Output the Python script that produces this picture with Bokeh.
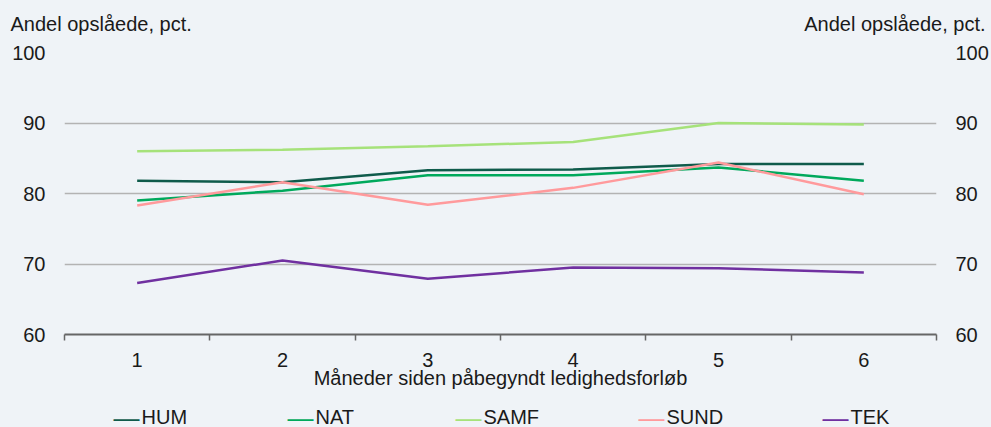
from bokeh.plotting import figure
from bokeh.models import (LinearAxis, FixedTicker, Label, Range1d)
from bokeh.embed import file_html
from bokeh.resources import INLINE

months = [1, 2, 3, 4, 5, 6]
month_labels = ["1", "2", "3", "4", "5", "6"]
series_names = ["HUM", "NAT", "SAMF", "SUND", "TEK"]
hum = [81.8, 81.6, 83.3, 83.4, 84.2, 84.2]
nat = [79.0, 80.4, 82.6, 82.6, 83.7, 81.8]
samf = [86.0, 86.2, 86.7, 87.3, 90.0, 89.8]
sund = [78.3, 81.6, 78.4, 80.8, 84.4, 79.9]
tek = [67.3, 70.5, 67.9, 69.5, 69.4, 68.8]
y_ticks = [60, 70, 80, 90, 100]
y_title = "Andel opslåede, pct."
x_title = "Måneder siden påbegyndt ledighedsforløb"

colors = ["#0f5b4b", "#00a95c", "#a6e27a", "#ff9a9c", "#7030a0"]
BG = "#eff3f7"
FONT = "Liberation Sans"
FS = "20px"
TXT = "#1a1a1a"

p = figure(frame_width=872, frame_height=282, output_backend="svg",
           toolbar_location=None, x_range=Range1d(0.5, 6.5), y_range=Range1d(60, 100),
           min_border_top=52, min_border_left=64, min_border_right=55, min_border_bottom=93,
           background_fill_color=BG, border_fill_color=BG, outline_line_color=None)

p.xgrid.grid_line_color = None
p.ygrid.ticker = FixedTicker(ticks=[70, 80, 90, 100])
p.ygrid.grid_line_color = "#b3b3b3"
p.ygrid.grid_line_width = 1.5

# x axis
xa = p.xaxis[0]
xa.ticker = FixedTicker(ticks=months, minor_ticks=[m - 0.5 for m in months] + [months[-1] + 0.5])
xa.major_label_overrides = {m: l for m, l in zip(months, month_labels)}
xa.major_tick_in = 0
xa.major_tick_out = 0
xa.minor_tick_in = 0
xa.minor_tick_out = 6
xa.minor_tick_line_color = "#666666"
xa.minor_tick_line_width = 1.5
xa.axis_line_color = "#666666"
xa.axis_line_width = 2
xa.major_label_standoff = 12
xa.major_label_text_font = FONT
xa.major_label_text_font_size = FS
xa.major_label_text_color = TXT
xa.axis_label = x_title
xa.axis_label_text_font = FONT
xa.axis_label_text_font_size = FS
xa.axis_label_text_font_style = "normal"
xa.axis_label_text_color = TXT
xa.axis_label_standoff = -3

# y axes
ya = p.yaxis[0]
ry = LinearAxis()
p.add_layout(ry, "right")
for ax in (ya, ry):
    ax.ticker = FixedTicker(ticks=y_ticks)
    ax.axis_line_color = None
    ax.major_tick_line_color = None
    ax.minor_tick_line_color = None
    ax.major_tick_in = 0
    ax.major_tick_out = 0
    ax.major_label_standoff = 19
    ax.major_label_text_font = FONT
    ax.major_label_text_font_size = FS
    ax.major_label_text_color = TXT

data = [hum, nat, samf, sund, tek]
for name, vals, c in zip(series_names, data, colors):
    p.line(months, vals, line_color=c, line_width=2.5)

# legend row drawn in the bottom margin (swatch + name per series)
legend_x = [113, 287, 455, 638, 822]
LEG_Y = 416
for lx, name, c in zip(legend_x, series_names, colors):
    sw = Label(x=lx, y=LEG_Y + 1, x_units="canvas", y_units="canvas", text="\u2014",
               text_font=FONT, text_font_size="26px", text_color=c,
               text_baseline="middle", text_align="left")
    tx = Label(x=lx + 28, y=LEG_Y, x_units="canvas", y_units="canvas", text=name,
               text_font=FONT, text_font_size=FS, text_color=TXT,
               text_baseline="middle", text_align="left")
    p.add_layout(sw, "below")
    p.add_layout(tx, "below")

lt = Label(x=10, y=12, x_units="canvas", y_units="canvas", text=y_title,
           text_font=FONT, text_font_size=FS, text_color=TXT, text_baseline="top",
           text_align="left")
rt = Label(x=985, y=12, x_units="canvas", y_units="canvas", text=y_title,
           text_font=FONT, text_font_size=FS, text_color=TXT, text_baseline="top",
           text_align="right")
p.add_layout(lt, "above")
p.add_layout(rt, "above")

html = file_html(p, INLINE)
html = html.replace("<head>", "<head><style>body{background:%s;}</style>" % BG, 1)
open("out.html", "w").write(html)
